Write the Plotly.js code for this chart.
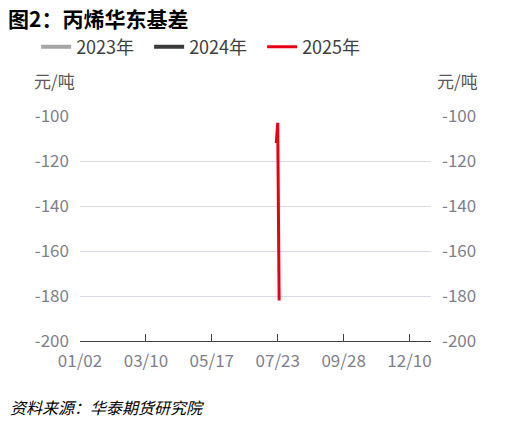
<!DOCTYPE html>
<html>
<head>
<meta charset="utf-8">
<script src="https://cdn.plot.ly/plotly-3.0.1.min.js"></script>
<style>html,body{margin:0;padding:0;background:#fff;}#chart{width:519px;height:426px;}</style>
</head>
<body>
<div id="chart"></div>
<script>
// Trading-day index positions of the x tick labels
const xTickLabels = ['01/02', '03/10', '05/17', '07/23', '09/28', '12/10'];
const xTickIdx = [0, 46, 92, 138, 184, 230];
const xEndIdx = 245;

const seriesNames = ['2023年', '2024年', '2025年'];
const seriesColors = ['#A6A6A6', '#3A3A3A', '#E60012'];

// 2023 and 2024: no visible data in the reference
const idx2023 = [];
const val2023 = [];
const idx2024 = [];
const val2024 = [];
// 2025 (around 07/22 - 07/24)
const idx2025 = [137, 138, 139];
const val2025 = [-112, -103, -182];

const yTicks = [-200, -180, -160, -140, -120, -100];
const yTickLabels = ['-200', '-180', '-160', '-140', '-120', '-100'];

const FONT = '"Noto Sans CJK SC", "Noto Sans", sans-serif';
const GREY = '#7F7F8C';

function orNull(a) { return a.length ? a : [null]; }

const traces = [
  {x: orNull(idx2023), y: orNull(val2023), name: seriesNames[0], type: 'scatter', mode: 'lines',
   line: {color: seriesColors[0], width: 4}},
  {x: orNull(idx2024), y: orNull(val2024), name: seriesNames[1], type: 'scatter', mode: 'lines',
   line: {color: seriesColors[1], width: 4}},
  {x: idx2025, y: val2025, name: seriesNames[2], type: 'scatter', mode: 'lines',
   line: {color: seriesColors[2], width: 3}},
  {x: [null], y: [null], yaxis: 'y2', showlegend: false, type: 'scatter', mode: 'lines', hoverinfo: 'skip'}
];

const layout = {
  width: 519, height: 426,
  margin: {l: 80, r: 88, t: 116, b: 85},
  paper_bgcolor: '#fff', plot_bgcolor: '#fff',
  font: {family: FONT, size: 17, color: GREY},
  showlegend: true,
  title: {text: '图2：丙烯华东基差', x: 8/519, xanchor: 'left', xref: 'container',
          y: 1 - 20/426, yanchor: 'middle', yref: 'container',
          font: {family: FONT, size: 21, color: '#000', weight: 700}},
  legend: {orientation: 'h', x: -0.125, xanchor: 'left', y: 1.307, yanchor: 'middle',
           font: {family: FONT, size: 18, color: '#404040'}, itemwidth: 30,
           entrywidth: 68, entrywidthmode: 'pixels', bgcolor: 'rgba(0,0,0,0)'},
  xaxis: {
    range: [0, xEndIdx], tickmode: 'array',
    tickvals: xTickIdx.concat([xEndIdx]), ticktext: xTickLabels.concat(['']),
    showgrid: false, zeroline: false, showline: true, linecolor: '#404040', linewidth: 1,
    ticks: 'inside', ticklen: 7, tickcolor: '#404040', tickwidth: 1,
    tickfont: {family: FONT, size: 17, color: GREY}, ticklabelstandoff: 5
  },
  yaxis: {
    range: [-200, -100], tickmode: 'array', tickvals: yTicks, ticktext: yTickLabels,
    showgrid: true, gridcolor: '#D9DAE8', gridwidth: 1, zeroline: false, showline: false,
    ticks: '', tickfont: {family: FONT, size: 17, color: GREY}, ticklabelstandoff: 10
  },
  yaxis2: {
    range: [-200, -100], tickmode: 'array', tickvals: yTicks, ticktext: yTickLabels,
    overlaying: 'y', side: 'right',
    showgrid: false, zeroline: false, showline: false, ticks: '',
    tickfont: {family: FONT, size: 17, color: GREY}, ticklabelstandoff: 10
  },
  annotations: [
    {text: '元/吨', xref: 'paper', yref: 'paper', x: (32-80)/351, y: (341-80)/225,
     xanchor: 'left', yanchor: 'middle', showarrow: false, font: {family: FONT, size: 17, color: '#595959'}},
    {text: '元/吨', xref: 'paper', yref: 'paper', x: (435-80)/351, y: (341-80)/225,
     xanchor: 'left', yanchor: 'middle', showarrow: false, font: {family: FONT, size: 17, color: '#595959'}},
    {text: '<i>资料来源：华泰期货研究院</i>', xref: 'paper', yref: 'paper', x: (8-80)/351, y: (341-407)/225,
     xanchor: 'left', yanchor: 'middle', showarrow: false, font: {family: FONT, size: 16, color: '#000'}}
  ]
};

Plotly.newPlot('chart', traces, layout, {displayModeBar: false, staticPlot: true});
</script>
</body>
</html>
